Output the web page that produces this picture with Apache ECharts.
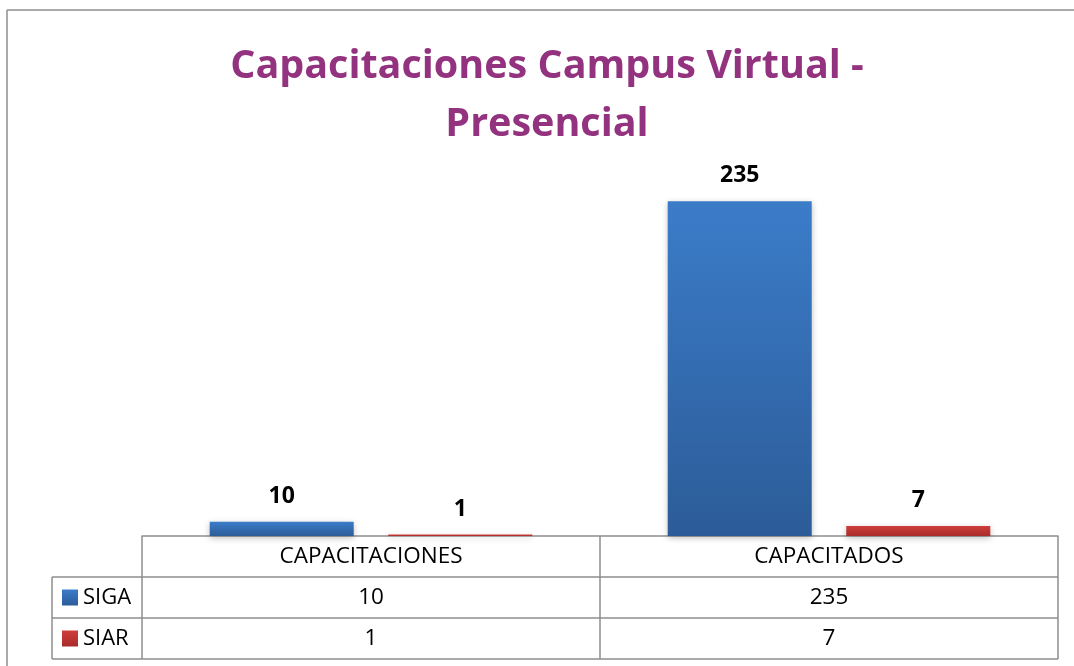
<!DOCTYPE html>
<html>
<head>
<meta charset="utf-8">
<title>Capacitaciones Campus Virtual - Presencial</title>
<script src="https://cdn.jsdelivr.net/npm/echarts@6/dist/echarts.min.js"></script>
<style>
    html, body { margin: 0; padding: 0; background: #fff; }
    #chart { width: 1074px; height: 666px; }
</style>
</head>
<body>
<div id="chart"></div>
<script>
var categorias = ['CAPACITACIONES', 'CAPACITADOS'];
var siga = [10, 235];
var siar = [1, 7];
var nombres = ['SIGA', 'SIAR'];

var fuente = 'Open Sans';
var gris = '#8e8e8e';

var myChart = echarts.init(document.getElementById('chart'));

// filas de la tabla de datos (debajo del eje)
function celdas(value, index) {
    return '{h|' + value + '}\n{v|' + siga[index] + '}\n{v|' + siar[index] + '}';
}

function degradado(arriba, abajo) {
    return new echarts.graphic.LinearGradient(0, 0, 0, 1, [
        {offset: 0, color: arriba},
        {offset: 1, color: abajo}
    ]);
}

var etiqueta = {
    show: true,
    position: 'top',
    distance: 14,
    fontFamily: fuente,
    fontWeight: 'bold',
    fontSize: 23,
    color: '#000'
};

option = {
    animation: false,
    title: {
        text: 'Capacitaciones Campus Virtual -\nPresencial',
        left: 542,
        top: 33,
        textAlign: 'center',
        textStyle: {
            fontFamily: fuente,
            fontWeight: 'bold',
            fontSize: 39.5,
            lineHeight: 58,
            color: '#93327e'
        }
    },
    grid: {left: 142, right: 16, top: 180, bottom: 130},
    xAxis: {
        type: 'category',
        data: categorias,
        axisLine: {lineStyle: {color: gris, width: 1.5}},
        axisTick: {show: false},
        axisLabel: {
            margin: 0,
            interval: 0,
            formatter: celdas,
            rich: {
                h: {fontFamily: fuente, fontSize: 22.5, color: '#000', lineHeight: 41, align: 'center'},
                v: {fontFamily: fuente, fontSize: 22.5, color: '#000', lineHeight: 41, align: 'center'}
            }
        }
    },
    yAxis: {
        type: 'value',
        min: 0,
        max: 250,
        show: false,
        splitLine: {show: false}
    },
    series: [
        {
            name: nombres[0],
            type: 'bar',
            data: siga,
            barWidth: 144,
            barGap: '24%',
            itemStyle: {
                color: degradado('#3b7cc9', '#2c5c98'),
                shadowColor: 'rgba(0,0,0,0.25)',
                shadowBlur: 6,
                shadowOffsetY: 2
            },
            label: etiqueta
        },
        {
            name: nombres[1],
            type: 'bar',
            data: siar,
            barWidth: 144,
            itemStyle: {
                color: degradado('#cf3d3a', '#a82c2a'),
                shadowColor: 'rgba(0,0,0,0.25)',
                shadowBlur: 6,
                shadowOffsetY: 2
            },
            label: etiqueta
        }
    ],
    graphic: []
};

myChart.setOption(option);

// lineas de la tabla y leyenda
var x0 = 52, x1 = 142, xm = 600, x2 = 1058;
var yEje = 536, fila = 41;
var linea = {stroke: gris, lineWidth: 1.5};
var g = [
    // marco exterior
    {type: 'line', shape: {x1: 7, y1: 10, x2: 1074, y2: 10}, style: linea},
    {type: 'line', shape: {x1: 7, y1: 10, x2: 7, y2: 666}, style: linea},
    // horizontales
    {type: 'line', shape: {x1: x0, y1: yEje + fila, x2: x2, y2: yEje + fila}, style: linea},
    {type: 'line', shape: {x1: x0, y1: yEje + 2 * fila, x2: x2, y2: yEje + 2 * fila}, style: linea},
    {type: 'line', shape: {x1: x0, y1: yEje + 3 * fila, x2: x2, y2: yEje + 3 * fila}, style: linea},
    // verticales
    {type: 'line', shape: {x1: x0, y1: yEje + fila, x2: x0, y2: yEje + 3 * fila}, style: linea},
    {type: 'line', shape: {x1: x1, y1: yEje, x2: x1, y2: yEje + 3 * fila}, style: linea},
    {type: 'line', shape: {x1: xm, y1: yEje, x2: xm, y2: yEje + 3 * fila}, style: linea},
    {type: 'line', shape: {x1: x2, y1: yEje, x2: x2, y2: yEje + 3 * fila}, style: linea}
];
var colores = [degradado('#3b7cc9', '#2c5c98'), degradado('#cf3d3a', '#a82c2a')];
for (var i = 0; i < nombres.length; i++) {
    var yc = yEje + fila * (i + 1) + fila / 2;
    g.push({type: 'rect', shape: {x: 62, y: yc - 8, width: 16, height: 16}, style: {fill: colores[i]}});
    g.push({
        type: 'text',
        x: 83,
        y: yc,
        style: {text: nombres[i], fontFamily: fuente, fontSize: 22, fill: '#000', verticalAlign: 'middle'}
    });
}
myChart.setOption({graphic: g});
</script>
</body>
</html>
